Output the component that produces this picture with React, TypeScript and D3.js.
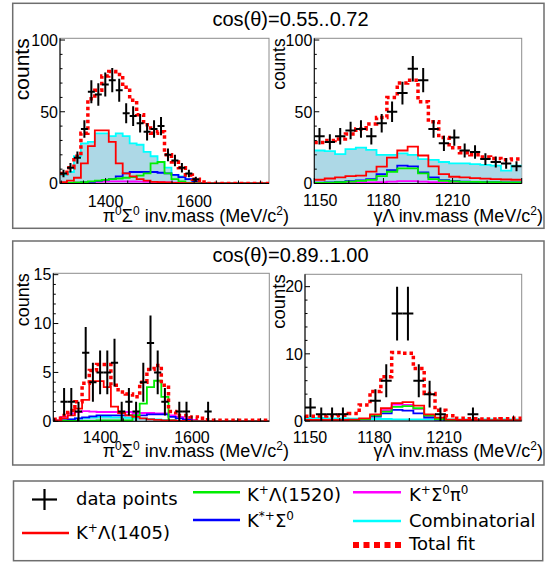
import React from 'react';
import * as d3 from 'd3';

const W = 555;
const H = 562;

// histogram ranges (MeV/c^2)
const PZ_RANGE: [number, number] = [1297, 1769]; // π0Σ0, 30 bins
const GL_RANGE_TOP: [number, number] = [1150, 1240]; // γΛ, 20 bins
const GL_RANGE_BOT: [number, number] = [1150, 1243.5];

// ---- top-left: π0Σ0, cos(θ)=0.55..0.72 ----
const A_data = [7, 11, 18, 38, 64, 62, 69, 72, 65, 49, 47, 42, 36, 38, 40, 20, 16, 11, 7, 3, 0, 0, 0, 0, 0, 0, 0, 0, 0, 0];
const A_total = [7, 11, 19, 35, 59, 65, 75, 78, 76, 67, 58, 48, 41, 35, 36, 20, 15, 11, 6, 3, 1, 0, 0, 0, 0, 0, 0, 0, 0, 0];
const A_cyan = [6, 8, 19, 28, 29, 35, 35, 33, 35, 33, 28, 27, 22, 19, 15, 11, 6, 5, 3, 1.5, 0.5, 0, 0, 0, 0, 0, 0, 0, 0, 0];
const A_red = [1, 2, 4, 14, 26, 37, 37, 29, 14, 7, 5, 3, 2, 1.2, 1, 0.8, 0.5, 0.3, 0.2, 0.1, 0, 0, 0, 0, 0, 0, 0, 0, 0, 0];
const A_green = [0.3, 0.5, 0.8, 1, 1.5, 2, 2.5, 3, 3.5, 4, 4.5, 5.5, 7, 14, 15, 7, 3, 1.5, 0.5, 0.2, 0, 0, 0, 0, 0, 0, 0, 0, 0, 0];
const A_blue = [0.2, 0.3, 0.5, 0.8, 1.2, 1.8, 2.5, 3, 5, 7, 8, 8, 8, 8, 7.5, 7, 6, 4.5, 3, 1.5, 0.5, 0, 0, 0, 0, 0, 0, 0, 0, 0];
const A_magenta = [0.2, 0.4, 0.6, 0.8, 1, 1.2, 1.4, 1.5, 1.5, 1.5, 1.4, 1.3, 1.2, 1.1, 1, 0.8, 0.6, 0.4, 0.2, 0.1, 0, 0, 0, 0, 0, 0, 0, 0, 0, 0];

// ---- top-right: γΛ, cos(θ)=0.55..0.72 ----
const B_data = [33, 29, 33, 37, 38, 33, 42, 50, 63, 80, 72, 38, 28, 32, 23, 22, 17, 15, 14, 12];
const B_total = [28.5, 30, 31, 34.5, 38, 41.5, 46, 60, 70, 72, 57, 43, 32, 25, 21.5, 20, 18.5, 17.5, 16.5, 17];
const B_cyan = [23, 22.5, 20.5, 24, 25, 23.5, 20, 20, 21, 20, 17, 16.5, 15, 14, 14, 13.5, 13, 12.5, 9, 12.5];
const B_red = [2.6, 3.5, 4.2, 5.2, 5.5, 8.3, 11.7, 18, 23, 25.7, 19.5, 12, 6.5, 4.7, 4.2, 3.8, 3.4, 3, 2.8, 2.6];
const B_blue = [0.6, 0.8, 1.2, 1.7, 2.2, 3, 6.5, 9.3, 12.4, 12, 7.7, 4.2, 2.3, 1.6, 1.3, 1.1, 1, 0.9, 0.8, 0.7];
const B_green = [0.4, 0.6, 1, 1.3, 1.8, 2.5, 5.2, 8.2, 10.5, 10.5, 7, 3, 1.9, 1.4, 1.2, 1.1, 1, 0.9, 0.8, 0.7];
const B_magenta = [0.3, 0.3, 0.4, 0.5, 0.6, 0.8, 1.0, 1.3, 1.6, 1.6, 1.3, 1.0, 0.7, 0.5, 0.4, 0.3, 0.3, 0.3, 0.3, 0.3];

// ---- bottom-left: π0Σ0, cos(θ)=0.89..1.00 ----
const C_data = [0, 2, 2, 1, 7, 4, 5, 5, 6, 1, 2, 1, 4, 8, 5, 2, 0, 1, 1, 0, 0, 1, 0, 0, 0, 0, 0, 0, 0, 0];
const C_total = [0.2, 0.6, 1.1, 2, 3.9, 5.2, 5.8, 5.8, 3.7, 3, 2.8, 2.5, 4.0, 5.3, 5.7, 3.7, 1, 0.6, 0.6, 0.45, 0.3, 0.15, 0.1, 0.1, 0.1, 0.1, 0.1, 0.1, 0.1, 0.1];
const C_cyan = [0.1, 0.15, 0.2, 0.3, 0.35, 0.4, 0.45, 0.45, 0.4, 0.4, 0.35, 0.3, 0.3, 0.25, 0.2, 0.15, 0.1, 0.05, 0, 0, 0, 0, 0, 0, 0, 0, 0, 0, 0, 0];
const C_red = [0.1, 0.3, 0.6, 1.3, 2.2, 4.1, 4.1, 3.5, 1.5, 0.85, 0.6, 0.45, 0.3, 0.2, 0.15, 0.1, 0.1, 0.05, 0.05, 0, 0, 0, 0, 0, 0, 0, 0, 0, 0, 0];
const C_green = [0.05, 0.05, 0.05, 0.05, 0.05, 0.05, 0.1, 0.1, 0.1, 0.1, 0.1, 0.6, 1.8, 3.5, 4.15, 2.5, 0.1, 0.05, 0.05, 0, 0, 0, 0, 0, 0, 0, 0, 0, 0, 0];
const C_blue = [0.05, 0.1, 0.2, 0.3, 0.4, 0.5, 0.6, 0.6, 0.6, 0.6, 0.6, 0.6, 0.6, 0.7, 0.7, 0.7, 0.45, 0.3, 0.15, 0.05, 0, 0, 0, 0, 0, 0, 0, 0, 0, 0];
const C_magenta = [0.1, 0.45, 0.8, 0.95, 1.05, 1.0, 0.95, 0.95, 0.95, 0.95, 0.95, 0.85, 0.85, 0.85, 0.8, 0.8, 0.6, 0.45, 0.3, 0.15, 0.05, 0, 0, 0, 0, 0, 0, 0, 0, 0];

// ---- bottom-right: γΛ, cos(θ)=0.89..1.00 ----
const D_data = [2, 1, 1, 1, 0, 0, 3, 6, 16, 16, 6, 4, 1, 0, 0, 1, 0, 0, 0, 0];
const D_total = [0.7, 0.75, 0.8, 0.85, 1.1, 2.4, 4.4, 6.6, 10.2, 10.1, 7.8, 4.1, 1.6, 0.8, 0.4, 0.35, 0.3, 0.3, 0.35, 0.4];
const D_cyan = [0.45, 0.45, 0.4, 0.4, 0.35, 0.3, 0.3, 0.3, 0.25, 0.25, 0.25, 0.25, 0.25, 0.25, 0.25, 0.25, 0.25, 0.25, 0.25, 0.25];
const D_red = [0.15, 0.15, 0.15, 0.15, 0.2, 0.4, 1.0, 1.9, 2.65, 2.8, 2.3, 1.0, 0.5, 0.2, 0.15, 0.15, 0.1, 0.1, 0.1, 0.1];
const D_green = [0.1, 0.1, 0.1, 0.1, 0.15, 0.3, 0.8, 1.4, 2.1, 2.2, 1.9, 0.8, 0.3, 0.15, 0.1, 0.1, 0.1, 0.1, 0.1, 0.1];
const D_blue = [0.05, 0.05, 0.05, 0.05, 0.1, 0.25, 0.65, 1.15, 1.65, 1.55, 1.15, 0.5, 0.2, 0.1, 0.05, 0.05, 0.05, 0.05, 0.05, 0.05];
const D_magenta = [0.1, 0.1, 0.1, 0.1, 0.15, 0.3, 0.8, 1.6, 2.45, 2.4, 1.8, 0.7, 0.3, 0.15, 0.1, 0.1, 0.1, 0.1, 0.1, 0.1];

// ticks
const PZ_MAJOR = [1400, 1600];
const PZ_MINOR = [1300, 1350, 1450, 1500, 1550, 1650, 1700, 1750];
const GL_MAJOR = [1150, 1180, 1210, 1240];
const GL_MINOR = [1165, 1195, 1225];
const GL_LABELS = [1150, 1180, 1210];
const Y_TOP_MAJOR = [0, 50, 100];
const Y_TOP_MINOR = [10, 20, 30, 40, 60, 70, 80, 90];
const Y_BL_MAJOR = [0, 5, 10, 15];
const Y_BL_MINOR = [1, 2, 3, 4, 6, 7, 8, 9, 11, 12, 13, 14];
const Y_BR_MAJOR = [0, 10, 20];
const Y_BR_MINOR = [2, 4, 6, 8, 12, 14, 16, 18];

const TITLES = ['cos(θ)=0.55..0.72', 'cos(θ)=0.89..1.00'];

// rich-text segments: [text, isSuperscript]
type Seg = [string, boolean];
const PZ_TITLE: Seg[] = [['π', false], ['0', true], ['Σ', false], ['0', true], [' inv.mass (MeV/c', false], ['2', true], [')', false]];
const GL_TITLE: Seg[] = [['γΛ inv.mass (MeV/c', false], ['2', true], [')', false]];
const LEG_DATA: Seg[] = [['data points', false]];
const LEG_L1405: Seg[] = [['K', false], ['+', true], ['Λ(1405)', false]];
const LEG_L1520: Seg[] = [['K', false], ['+', true], ['Λ(1520)', false]];
const LEG_KST: Seg[] = [['K', false], ['*+', true], ['Σ', false], ['0', true]];
const LEG_KSP: Seg[] = [['K', false], ['+', true], ['Σ', false], ['0', true], ['π', false], ['0', true]];
const LEG_COMB: Seg[] = [['Combinatorial', false]];
const LEG_TOT: Seg[] = [['Total fit', false]];

const COL = {
  red: '#ff0000',
  green: '#00ee00',
  blue: '#0000ff',
  magenta: '#ff00ff',
  cyan: '#00ffff',
  fill: '#add8e6',
};

const AXF = 'Liberation Sans, Arial, Helvetica, sans-serif';
const LGF = 'DejaVu Sans, sans-serif';

function Rich({ segs, supSize, up }: { segs: Seg[]; supSize: number; up: number }) {
  let raised = false;
  return (
    <>
      {segs.map(([t, sup], i) => {
        let dy = 0;
        if (sup && !raised) { dy = -up; raised = true; }
        else if (!sup && raised) { dy = up; raised = false; }
        return (
          <tspan key={i} dy={dy} fontSize={sup ? supSize : undefined}>
            {t}
          </tspan>
        );
      })}
    </>
  );
}

type Panel = {
  id: string;
  frame: { x0: number; x1: number; y0: number; y1: number };
  xDomain: [number, number];
  yMax: number;
  data: number[];
  total: number[];
  cyan: number[];
  red: number[];
  green: number[];
  blue: number[];
  magenta: number[];
  xMajor: number[];
  xMinor: number[];
  xLabels: number[];
  firstLabelShift: number;
  yMajor: number[];
  yMinor: number[];
  countsSize: number;
  countsX: number;
  title: Seg[];
  xTitleEnd: number;
  xTitleY: number;
  tickLabelY: number;
};

const panels: Panel[] = [
  {
    id: 'A', frame: { x0: 60, x1: 269, y0: 38.3, y1: 183.5 }, xDomain: PZ_RANGE, yMax: 101.2,
    data: A_data, total: A_total, cyan: A_cyan, red: A_red, green: A_green, blue: A_blue, magenta: A_magenta,
    xMajor: PZ_MAJOR, xMinor: PZ_MINOR, xLabels: PZ_MAJOR, firstLabelShift: 0, yMajor: Y_TOP_MAJOR, yMinor: Y_TOP_MINOR,
    countsSize: 21, countsX: 28.5, title: PZ_TITLE, xTitleEnd: 289, xTitleY: 222, tickLabelY: 206.5,
  },
  {
    id: 'B', frame: { x0: 314.3, x1: 521.7, y0: 38.3, y1: 183.5 }, xDomain: GL_RANGE_TOP, yMax: 101.2,
    data: B_data, total: B_total, cyan: B_cyan, red: B_red, green: B_green, blue: B_blue, magenta: B_magenta,
    xMajor: GL_MAJOR, xMinor: GL_MINOR, xLabels: GL_LABELS, firstLabelShift: 6, yMajor: Y_TOP_MAJOR, yMinor: Y_TOP_MINOR,
    countsSize: 17.5, countsX: 285, title: GL_TITLE, xTitleEnd: 543, xTitleY: 221.5, tickLabelY: 205.5,
  },
  {
    id: 'C', frame: { x0: 53.3, x1: 269.3, y0: 273.3, y1: 421.3 }, xDomain: PZ_RANGE, yMax: 15.14,
    data: C_data, total: C_total, cyan: C_cyan, red: C_red, green: C_green, blue: C_blue, magenta: C_magenta,
    xMajor: PZ_MAJOR, xMinor: PZ_MINOR, xLabels: PZ_MAJOR, firstLabelShift: 0, yMajor: Y_BL_MAJOR, yMinor: Y_BL_MINOR,
    countsSize: 18, countsX: 28.5, title: PZ_TITLE, xTitleEnd: 289, xTitleY: 457, tickLabelY: 443,
  },
  {
    id: 'D', frame: { x0: 305, x1: 521.7, y0: 274.3, y1: 421 }, xDomain: GL_RANGE_BOT, yMax: 21.84,
    data: D_data, total: D_total, cyan: D_cyan, red: D_red, green: D_green, blue: D_blue, magenta: D_magenta,
    xMajor: GL_MAJOR, xMinor: GL_MINOR, xLabels: GL_LABELS, firstLabelShift: 5, yMajor: Y_BR_MAJOR, yMinor: Y_BR_MINOR,
    countsSize: 18.5, countsX: 285, title: GL_TITLE, xTitleEnd: 543, xTitleY: 457, tickLabelY: 443,
  },
];

function PanelView({ p }: { p: Panel }) {
  const { x0, x1, y0, y1 } = p.frame;
  const x = d3.scaleLinear().domain(p.xDomain).range([x0, x1]);
  const y = d3.scaleLinear().domain([0, p.yMax]).range([y1, y0]);
  const n = p.total.length;
  const bw = (p.xDomain[1] - p.xDomain[0]) / n;
  const edge = (i: number) => p.xDomain[0] + i * bw;
  const steps = (vals: number[]): [number, number][] =>
    vals.flatMap((v, i) => [[edge(i), v], [edge(i + 1), v]] as [number, number][]);
  const line = d3.line<[number, number]>().x((d) => x(d[0])).y((d) => y(d[1]));
  const area = d3.area<[number, number]>().x((d) => x(d[0])).y0(y(0)).y1((d) => y(d[1]));
  const clipId = `clip-${p.id}`;

  const comps: { vals: number[]; color: string }[] = [
    { vals: p.magenta, color: COL.magenta },
    { vals: p.blue, color: COL.blue },
    { vals: p.green, color: COL.green },
    { vals: p.red, color: COL.red },
  ];

  return (
    <g>
      <defs>
        <clipPath id={clipId}>
          <rect x={x0} y={y0} width={x1 - x0} height={y1 - y0} />
        </clipPath>
      </defs>
      <rect x={x0} y={y0} width={x1 - x0} height={y1 - y0} fill="white" stroke="#8c8c8c" strokeWidth={1} />
      <g clipPath={`url(#${clipId})`}>
        <path d={area(steps(p.cyan)) || ''} fill={COL.fill} stroke="none" />
        <path d={line(steps(p.cyan)) || ''} fill="none" stroke={COL.cyan} strokeWidth={1.8} />
        {comps.map((c, k) => (
          <path key={k} d={line(steps(c.vals)) || ''} fill="none" stroke={c.color} strokeWidth={1.8} />
        ))}
        <path d={line(steps(p.total)) || ''} fill="none" stroke={COL.red} strokeWidth={3.5} strokeDasharray="3.5 3" />
        {p.data.map((v, i) =>
          v > 0 ? (
            <g key={i} stroke="black" strokeWidth={2}>
              <line x1={x(edge(i))} x2={x(edge(i + 1))} y1={y(v)} y2={y(v)} />
              <line x1={x(edge(i) + bw / 2)} x2={x(edge(i) + bw / 2)} y1={y(v - Math.sqrt(v))} y2={y(v + Math.sqrt(v))} />
            </g>
          ) : null
        )}
      </g>
      <line x1={x0} x2={x1} y1={y1} y2={y1} stroke="black" strokeWidth={1} />
      <line x1={x0} x2={x0} y1={y0} y2={y1} stroke="black" strokeWidth={1} />
      {p.xMajor.map((t) => (
        <line key={'xM' + t} x1={x(t)} x2={x(t)} y1={y1} y2={y1 - 5.5} stroke="black" strokeWidth={1} />
      ))}
      {p.xMinor.map((t) => (
        <line key={'xm' + t} x1={x(t)} x2={x(t)} y1={y1} y2={y1 - 3} stroke="black" strokeWidth={1} />
      ))}
      {p.yMajor.map((t) => (
        <line key={'yM' + t} x1={x0} x2={x0 + 5} y1={y(t)} y2={y(t)} stroke="black" strokeWidth={1} />
      ))}
      {p.yMinor.map((t) => (
        <line key={'ym' + t} x1={x0} x2={x0 + 2.5} y1={y(t)} y2={y(t)} stroke="black" strokeWidth={1} />
      ))}
      {p.xLabels.map((t, i) => (
        <text
          key={'xl' + t}
          x={x(t) + (i === 0 ? p.firstLabelShift : 0)}
          y={p.tickLabelY}
          textAnchor="middle"
          fontFamily={AXF}
          fontSize={16}
        >
          {t}
        </text>
      ))}
      {p.yMajor.map((t) => (
        <text key={'yl' + t} x={x0 - 2} y={y(t)} dy="0.36em" textAnchor="end" fontFamily={AXF} fontSize={16}>
          {t}
        </text>
      ))}
      <text
        transform={`translate(${p.countsX},${y0}) rotate(-90)`}
        textAnchor="end"
        fontFamily={AXF}
        fontSize={p.countsSize}
      >
        counts
      </text>
      <text x={p.xTitleEnd} y={p.xTitleY} textAnchor="end" fontFamily={AXF} fontSize={18}>
        <Rich segs={p.title} supSize={12} up={7} />
      </text>
    </g>
  );
}

export default function App() {
  return (
    <svg
      width={W}
      height={H}
      viewBox={`0 0 ${W} ${H}`}
      style={{ position: 'absolute', left: 0, top: 0, background: 'white' }}
    >
      <rect x={0} y={0} width={W} height={H} fill="white" />
      <rect x={12.7} y={3.3} width={531.3} height={225} fill="white" stroke="#6e6e6e" strokeWidth={1.5} />
      <rect x={12.7} y={241} width={531.3} height={224} fill="white" stroke="#6e6e6e" strokeWidth={1.5} />
      <text x={290.5} y={26} textAnchor="middle" fontFamily={AXF} fontSize={20}>{TITLES[0]}</text>
      <text x={290.5} y={262} textAnchor="middle" fontFamily={AXF} fontSize={20}>{TITLES[1]}</text>
      {panels.map((p) => (
        <PanelView key={p.id} p={p} />
      ))}
      <rect x={13.5} y={481} width={529.2} height={79.7} fill="white" stroke="#6e6e6e" strokeWidth={1.5} />
      <g fontFamily={LGF} fontSize={18}>
        <g stroke="black" strokeWidth={2.2}>
          <line x1={32} x2={57} y1={499.5} y2={499.5} />
          <line x1={44.5} x2={44.5} y1={489} y2={510} />
        </g>
        <text x={76} y={505}><Rich segs={LEG_DATA} supSize={12} up={7} /></text>

        <line x1={22} x2={69} y1={533} y2={533} stroke={COL.red} strokeWidth={2.5} />
        <text x={76} y={539}><Rich segs={LEG_L1405} supSize={12} up={7} /></text>

        <line x1={193} x2={240} y1={492.3} y2={492.3} stroke={COL.green} strokeWidth={2.5} />
        <text x={247} y={501}><Rich segs={LEG_L1520} supSize={12} up={7} /></text>

        <line x1={193} x2={240} y1={520} y2={520} stroke={COL.blue} strokeWidth={2.5} />
        <text x={247} y={527}><Rich segs={LEG_KST} supSize={12} up={7} /></text>

        <line x1={353} x2={401} y1={492.3} y2={492.3} stroke={COL.magenta} strokeWidth={2.5} />
        <text x={409} y={501}><Rich segs={LEG_KSP} supSize={12} up={7} /></text>

        <line x1={353} x2={401} y1={521} y2={521} stroke={COL.cyan} strokeWidth={2.5} />
        <text x={409} y={527}><Rich segs={LEG_COMB} supSize={12} up={7} /></text>

        <line x1={353} x2={401} y1={545} y2={545} stroke={COL.red} strokeWidth={6} strokeDasharray="6 4.5" />
        <text x={409} y={550}><Rich segs={LEG_TOT} supSize={12} up={7} /></text>
      </g>
    </svg>
  );
}
